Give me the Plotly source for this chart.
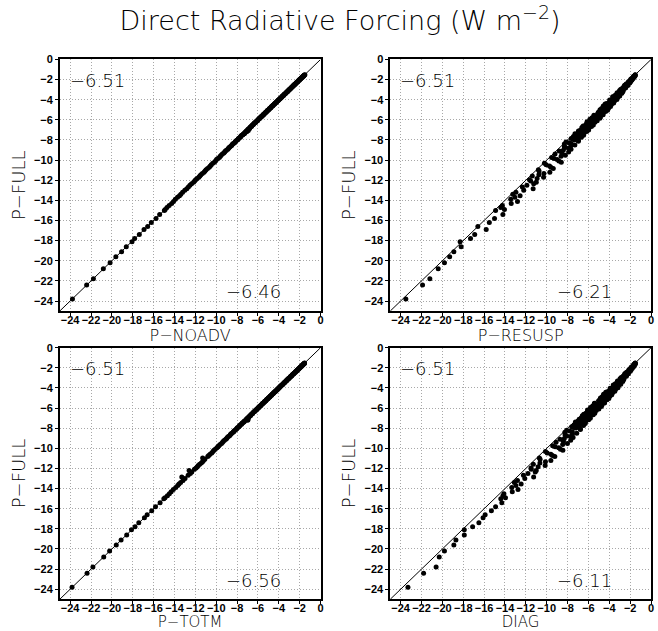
import plotly.graph_objects as go

# P-FULL values (y axis, shared by all four panels)
p_full = [
    -1.52, -1.58, -1.63, -1.71, -1.77, -1.84, -1.92, -1.99, -2.06, -2.15,
    -2.22, -2.31, -2.38, -2.47, -2.55, -2.62, -2.71, -2.80, -2.88, -2.96,
    -3.05, -3.13, -3.22, -3.30, -3.41, -3.49, -3.57, -3.66, -3.75, -3.84,
    -3.93, -4.02, -4.10, -4.19, -4.28, -4.37, -4.46, -4.55, -4.63, -4.72,
    -4.81, -4.90, -4.99, -5.08, -5.17, -5.26, -5.35, -5.44, -5.53, -5.62,
    -5.71, -5.80, -5.90, -5.99, -6.08, -6.18, -6.27, -6.37, -6.46, -6.56,
    -6.66, -6.75, -6.85, -6.95, -7.05, -7.16, -7.26, -7.37, -7.48, -7.60,
    -7.72, -7.85, -7.98, -8.12, -8.27, -8.41, -8.58, -8.74, -8.92, -9.10,
    -9.30, -9.51, -9.73, -9.95, -10.2, -10.45, -10.7, -10.95, -11.2, -11.45,
    -11.7, -11.95, -12.2, -12.5, -12.85, -13.2, -13.55, -13.9, -14.3, -14.7,
    -15.0, -15.4, -15.8, -16.2, -16.6, -16.9, -17.4, -17.8, -18.1, -18.6,
    -19.1, -19.6, -20.2, -20.8, -21.8, -22.4, -23.8,
    -1.55, -1.61, -1.67, -1.74, -1.81, -1.88, -1.95, -2.03, -2.10, -2.18,
    -2.26, -2.34, -2.43, -2.51, -2.59, -2.67, -2.75, -2.84, -2.92, -3.01,
    -3.09, -3.17, -3.26, -3.35, -3.45, -3.53, -3.62, -3.70, -3.79, -3.88,
    -3.97, -4.06, -4.15, -4.24, -4.33, -4.42, -4.51, -4.59, -4.68, -4.77,
    -4.86, -4.95, -5.04, -5.13, -5.22, -5.31, -5.40, -5.49, -5.58, -5.67,
    -5.76, -5.85, -5.94, -6.03, -6.13, -6.23, -6.32, -6.42, -6.51, -6.61,
    -6.71, -6.80, -6.90, -7.00, -7.11, -7.21, -7.32, -7.43, -7.54, -7.66,
    -7.79, -7.92, -8.05, -8.20, -8.34, -8.50, -8.66, -8.83, -9.01, -9.20,
    -9.40, -9.62, -9.84, -10.08, -10.32, -10.58, -10.82, -11.08, -11.32, -11.58,
    -11.82, -12.08, -12.35, -12.68, -13.0, -13.4, -13.7, -14.1, -14.5, -14.9,
]

p_noadv = [
    -1.50, -1.60, -1.61, -1.73, -1.75, -1.86, -1.90, -2.01, -2.04, -2.17,
    -2.20, -2.33, -2.36, -2.49, -2.53, -2.64, -2.69, -2.82, -2.86, -2.98,
    -3.03, -3.15, -3.20, -3.32, -3.39, -3.51, -3.55, -3.68, -3.73, -3.86,
    -3.91, -4.04, -4.08, -4.21, -4.26, -4.39, -4.44, -4.57, -4.61, -4.74,
    -4.79, -4.92, -4.97, -5.10, -5.14, -5.28, -5.33, -5.46, -5.50, -5.64,
    -5.69, -5.82, -5.87, -6.01, -6.05, -6.20, -6.24, -6.39, -6.43, -6.58,
    -6.63, -6.77, -6.80, -6.97, -6.92, -7.05, -7.22, -7.30, -7.45, -7.62,
    -7.69, -7.87, -7.95, -8.14, -8.24, -8.43, -8.55, -8.76, -8.89, -9.12,
    -9.27, -9.53, -9.70, -9.97, -10.17, -10.47, -10.67, -10.97, -11.17, -11.47,
    -11.67, -11.97, -12.17, -12.52, -12.82, -13.22, -13.52, -13.92, -14.27, -14.72,
    -14.97, -15.42, -15.77, -16.22, -16.57, -16.92, -17.37, -17.82, -18.07, -18.62,
    -19.07, -19.62, -20.17, -20.82, -21.77, -22.42, -23.78,
    -1.56, -1.60, -1.68, -1.73, -1.82, -1.87, -1.96, -2.02, -2.11, -2.17,
    -2.27, -2.33, -2.44, -2.50, -2.60, -2.66, -2.76, -2.83, -2.93, -3.00,
    -3.10, -3.16, -3.27, -3.34, -3.46, -3.52, -3.63, -3.69, -3.80, -3.87,
    -3.98, -4.05, -4.16, -4.23, -4.34, -4.41, -4.52, -4.58, -4.69, -4.76,
    -4.87, -4.94, -5.05, -5.12, -5.23, -5.30, -5.41, -5.48, -5.59, -5.66,
    -5.77, -5.84, -5.95, -6.02, -6.14, -6.22, -6.33, -6.41, -6.52, -6.60,
    -6.72, -6.79, -6.91, -6.99, -7.12, -7.20, -7.33, -7.42, -7.55, -7.65,
    -7.80, -7.91, -8.06, -8.19, -8.35, -8.49, -8.67, -8.82, -9.02, -9.19,
    -9.41, -9.61, -9.85, -10.07, -10.33, -10.57, -10.83, -11.07, -11.33, -11.57,
    -11.83, -12.07, -12.36, -12.67, -13.01, -13.39, -13.71, -14.09, -14.51, -14.89,
]

p_resusp = [
    -1.52, -1.53, -1.61, -1.61, -1.73, -1.72, -1.86, -1.84, -1.98, -1.97,
    -2.17, -2.09, -2.26, -2.19, -2.53, -2.44, -2.39, -2.70, -2.63, -2.90,
    -2.67, -2.98, -2.77, -3.25, -3.13, -2.97, -3.47, -3.31, -3.17, -3.64,
    -3.51, -3.97, -3.48, -3.94, -3.80, -4.25, -3.78, -4.20, -4.58, -4.17,
    -4.06, -4.60, -4.89, -4.50, -4.35, -5.06, -4.90, -4.74, -5.48, -5.24,
    -4.86, -5.65, -5.30, -5.67, -5.16, -6.13, -5.77, -5.59, -6.24, -5.91,
    -5.71, -6.63, -6.45, -6.15, -6.80, -6.16, -6.71, -7.29, -6.76, -7.25,
    -6.67, -7.65, -7.33, -6.97, -7.87, -8.31, -7.68, -8.19, -7.67, -8.80,
    -8.55, -8.21, -9.53, -9.00, -8.60, -10.05, -9.60, -10.80, -9.70, -10.75,
    -10.30, -11.65, -11.00, -11.90, -11.30, -12.95, -12.55, -13.45, -13.40, -14.40,
    -14.90, -14.20, -15.00, -15.50, -16.60, -15.80, -16.90, -17.30, -18.30, -18.20,
    -18.90, -19.30, -19.80, -20.40, -21.20, -21.90, -23.50,
    -1.52, -1.53, -1.67, -1.62, -1.75, -1.72, -1.93, -1.83, -2.00, -1.94,
    -2.12, -2.04, -2.39, -2.31, -2.23, -2.57, -2.49, -2.44, -2.76, -2.69,
    -3.01, -2.69, -3.01, -2.80, -3.30, -3.15, -3.00, -3.68, -3.33, -3.58,
    -3.27, -3.88, -3.63, -3.89, -3.58, -4.40, -3.91, -4.31, -3.88, -4.32,
    -4.74, -4.33, -4.16, -4.73, -5.00, -4.59, -4.85, -4.59, -5.28, -4.87,
    -5.31, -4.90, -5.86, -5.33, -5.73, -5.38, -6.14, -5.80, -5.53, -6.51,
    -6.13, -5.95, -6.60, -5.98, -6.96, -6.53, -6.42, -6.98, -6.46, -7.44,
    -6.99, -7.47, -6.95, -8.15, -7.64, -7.30, -8.31, -7.88, -8.41, -7.90,
    -9.20, -8.62, -9.29, -8.83, -10.22, -9.73, -9.37, -10.73, -10.27, -11.38,
    -10.92, -11.53, -11.25, -12.33, -12.20, -13.25, -13.05, -12.80, -14.25, -14.05,
]

p_totm = [
    -1.53, -1.56, -1.65, -1.70, -1.79, -1.83, -1.94, -1.97, -2.08, -2.13,
    -2.24, -2.29, -2.40, -2.45, -2.57, -2.60, -2.73, -2.78, -2.90, -2.94,
    -3.07, -3.11, -3.24, -3.28, -3.43, -3.47, -3.59, -3.64, -3.77, -3.82,
    -3.95, -4.00, -4.12, -4.17, -4.30, -4.35, -4.48, -4.53, -4.65, -4.70,
    -4.83, -4.88, -5.01, -5.06, -5.19, -5.24, -5.37, -5.42, -5.55, -5.60,
    -5.73, -5.78, -5.92, -5.97, -6.10, -6.16, -6.29, -6.35, -6.48, -6.54,
    -6.68, -6.73, -6.87, -6.93, -7.07, -6.95, -7.28, -7.35, -7.50, -7.58,
    -7.74, -7.83, -8.00, -8.10, -8.29, -8.39, -8.60, -8.72, -8.94, -9.08,
    -9.32, -9.49, -9.75, -9.93, -10.22, -10.43, -10.72, -11.30, -11.22, -11.43,
    -11.72, -11.93, -12.60, -12.48, -13.30, -13.18, -13.57, -13.88, -14.32, -14.68,
    -15.02, -15.38, -15.82, -16.18, -16.62, -16.88, -17.42, -17.78, -18.12, -18.58,
    -19.12, -19.58, -20.22, -20.78, -21.82, -22.38, -23.82,
    -1.54, -1.62, -1.66, -1.75, -1.80, -1.89, -1.94, -2.04, -2.09, -2.19,
    -2.25, -2.35, -2.42, -2.52, -2.58, -2.68, -2.74, -2.85, -2.91, -3.02,
    -3.08, -3.18, -3.25, -3.36, -3.44, -3.54, -3.61, -3.71, -3.78, -3.89,
    -3.96, -4.07, -4.14, -4.25, -4.32, -4.43, -4.50, -4.60, -4.67, -4.78,
    -4.85, -4.96, -5.03, -5.14, -5.21, -5.32, -5.39, -5.50, -5.57, -5.68,
    -5.75, -5.86, -5.93, -6.04, -6.12, -6.24, -6.31, -6.43, -6.50, -6.62,
    -6.70, -6.81, -6.89, -7.01, -7.10, -7.00, -7.31, -7.44, -7.53, -7.67,
    -7.78, -7.93, -8.04, -8.21, -8.33, -8.51, -8.65, -8.84, -9.00, -9.21,
    -9.39, -9.63, -9.83, -10.09, -10.31, -10.59, -10.81, -11.09, -11.31, -11.59,
    -11.81, -12.09, -12.34, -12.69, -12.99, -13.41, -13.69, -14.11, -14.49, -14.91,
]

diag = [
    -1.52, -1.52, -1.60, -1.59, -1.71, -1.69, -1.84, -1.81, -1.96, -1.93,
    -2.14, -2.05, -2.23, -2.15, -2.50, -2.40, -2.33, -2.66, -2.58, -2.86,
    -2.60, -2.93, -2.70, -3.22, -3.07, -2.89, -3.42, -3.24, -3.09, -3.59,
    -3.43, -3.92, -3.38, -3.89, -3.72, -4.19, -3.66, -4.13, -4.55, -4.08,
    -3.93, -4.54, -4.85, -4.40, -4.22, -5.01, -4.81, -4.62, -5.43, -5.17,
    -4.71, -5.60, -5.20, -5.61, -5.00, -6.08, -5.69, -5.47, -6.18, -5.80,
    -5.54, -6.59, -6.37, -6.01, -6.75, -5.98, -6.61, -7.25, -6.63, -7.18,
    -6.47, -7.60, -7.20, -6.77, -7.79, -8.26, -7.53, -8.09, -7.47, -8.72,
    -8.40, -8.01, -9.43, -8.85, -8.45, -9.95, -9.45, -10.70, -9.60, -10.65,
    -10.15, -11.50, -11.00, -11.80, -11.25, -12.80, -12.45, -13.35, -13.30, -14.20,
    -14.40, -14.30, -14.90, -15.30, -15.90, -16.10, -16.50, -17.10, -17.90, -17.90,
    -18.70, -18.90, -19.80, -20.30, -20.60, -21.80, -23.30,
    -1.51, -1.51, -1.65, -1.59, -1.73, -1.68, -1.90, -1.79, -1.98, -1.90,
    -2.08, -1.98, -2.35, -2.25, -2.17, -2.53, -2.43, -2.36, -2.72, -2.63,
    -2.97, -2.61, -2.96, -2.71, -3.25, -3.08, -2.90, -3.62, -3.25, -3.52,
    -3.17, -3.82, -3.55, -3.82, -3.47, -4.34, -3.81, -4.25, -3.76, -4.25,
    -4.68, -4.23, -4.04, -4.65, -4.94, -4.47, -4.76, -4.45, -5.22, -4.75,
    -5.24, -4.77, -5.80, -5.23, -5.65, -5.25, -6.08, -5.70, -5.39, -6.45,
    -6.05, -5.82, -6.54, -5.82, -6.89, -6.43, -6.27, -6.91, -6.30, -7.36,
    -6.87, -7.40, -6.77, -8.08, -7.54, -7.12, -8.24, -7.73, -8.31, -7.70,
    -9.10, -8.47, -9.19, -8.68, -10.12, -9.60, -9.22, -10.63, -10.12, -11.28,
    -10.82, -11.48, -11.10, -12.23, -12.10, -13.10, -12.95, -12.75, -14.10, -13.95,
]

panel_x_titles = ["P−NOADV", "P−RESUSP", "P−TOTM", "DIAG"]
panel_x_data = [p_noadv, p_resusp, p_totm, diag]
full_mean_label = "−6.51"
panel_mean_labels = ["−6.46", "−6.21", "−6.56", "−6.11"]
tick_vals = [-24, -22, -20, -18, -16, -14, -12, -10, -8, -6, -4, -2, 0]
tick_text = ["−24", "−22", "−20", "−18", "−16", "−14", "−12", "−10", "−8", "−6", "−4", "−2", "0"]
axis_range = [-25, 0]

W, H = 658, 631
xdoms = [(60 / W, 322 / W), (392 / W, 654 / W)]
ydoms = [((H - 308) / H, (H - 54) / H), ((H - 599) / H, (H - 345) / H)]
xtitle_sizes = [16, 15]

fig = go.Figure()
font_tick = "Liberation Sans, Arial, sans-serif"
font_thin = "DejaVu Sans ExtraLight, DejaVu Sans Light, DejaVu Sans, sans-serif"

for i in range(4):
    row, col = divmod(i, 2)
    n = "" if i == 0 else str(i + 1)
    xa, ya = "x" + n, "y" + n
    fig.add_trace(go.Scatter(
        x=axis_range, y=axis_range, mode="lines",
        line=dict(color="black", width=1), xaxis=xa, yaxis=ya, showlegend=False,
        hoverinfo="skip"))
    fig.add_trace(go.Scatter(
        x=panel_x_data[i], y=p_full, mode="markers",
        marker=dict(symbol="circle", size=5, color="black", line=dict(width=0)),
        xaxis=xa, yaxis=ya, showlegend=False))
    axcommon = dict(
        range=axis_range, tickvals=tick_vals, ticktext=tick_text, tickangle=0,
        ticks="outside", ticklen=3, tickwidth=1, tickcolor="black",
        showgrid=True, gridcolor="#a8a8a8", griddash="1px,2px", gridwidth=1,
        showline=True, linecolor="black", linewidth=1.5, mirror=True,
        zeroline=False,
        tickfont=dict(family=font_tick, size=11, color="black", weight="bold"),
    )
    fig.update_layout(**{
        ("xaxis" + n): dict(axcommon, domain=xdoms[col], anchor=ya, ticklabelstandoff=-5,
                            title=dict(text=panel_x_titles[i], standoff=1,
                                       font=dict(family=font_thin, size=xtitle_sizes[row],
                                                 color="black"))),
        ("yaxis" + n): dict(axcommon, domain=ydoms[row], anchor=xa,
                            title=dict(text="P−FULL", standoff=4,
                                       font=dict(family=font_thin, size=18, color="black"))),
    })
    fig.add_annotation(x=-21.4, y=-2.1, xref=xa, yref=ya, text=full_mean_label,
                       showarrow=False, font=dict(family=font_thin, size=18, color="black"))
    fig.add_annotation(x=-6.4, y=-23.1, xref=xa, yref=ya, text=panel_mean_labels[i],
                       showarrow=False, font=dict(family=font_thin, size=18, color="black"))

fig.update_layout(
    width=W, height=H,
    margin=dict(l=0, r=0, t=0, b=0),
    paper_bgcolor="white", plot_bgcolor="white",
    title=dict(text="Direct Radiative Forcing (W m<sup>−2</sup>)", x=340 / W, xanchor="center",
               y=1 - 21 / H, yanchor="middle",
               font=dict(family=font_thin, size=27, color="black")),
)

fig.write_html("out.html")
